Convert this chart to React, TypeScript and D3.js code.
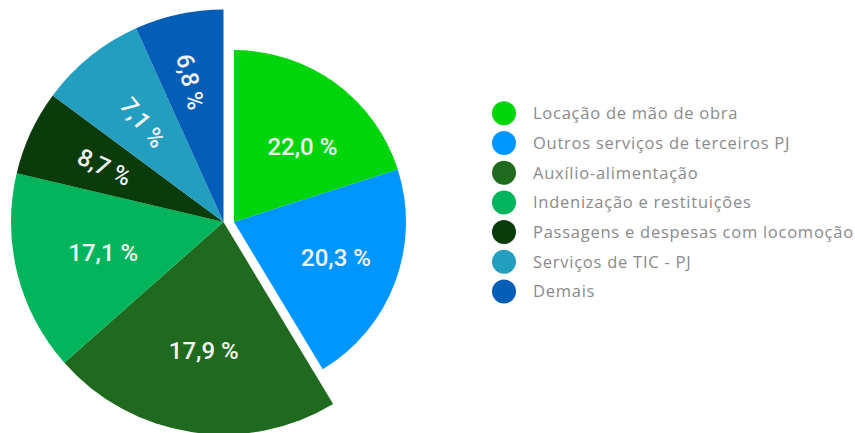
import * as d3 from "d3";

// slice shares as drawn (angles)
const categories = [
  "Locação de mão de obra",
  "Outros serviços de terceiros PJ",
  "Auxílio-alimentação",
  "Indenização e restituições",
  "Passagens e despesas com locomoção",
  "Serviços de TIC - PJ",
  "Demais",
];
const shares = [20.06, 21.3, 22.1, 15.2, 6.46, 8.1, 6.75];
const labels = ["22,0 %", "20,3 %", "17,9 %", "17,1 %", "8,7 %", "7,1 %", "6,8 %"];
const colors = ["#00d40a", "#0096ff", "#1f6a1e", "#02b45c", "#0a3c0b", "#239ebf", "#045db7"];

// layout
const W = 855;
const H = 433;
const cx = 223.5;
const cy = 222;
const bigR = 212.5;
const smallR = 172;
const outer = [smallR, smallR, bigR, bigR, bigR, bigR, bigR];
const shiftX = [10.5, 10.5, 0, 0, 0, 0, 0];
const labelR = [102, 108, 130, 124, 131, 128, 144];
const labelNudge = [6, -1.5, 0, 0, 0, 0, -1];
const rotated = [false, false, false, false, true, true, true];

function App() {
  const pie = d3
    .pie<number>()
    .sort(null)
    .startAngle(0)
    .endAngle(2 * Math.PI)
    .value((d) => d);
  const arcs = pie(shares);

  const legendX = 504;
  const legendY0 = 113.3;
  const legendStep = 29.7;

  return (
    <svg
      width={W}
      height={H}
      style={{ position: "absolute", left: 0, top: 0, background: "#fff" }}
    >
      <g>
        {arcs.map((a, i) => {
          const arc = d3.arc<d3.PieArcDatum<number>>().innerRadius(0).outerRadius(outer[i]);
          return (
            <path
              key={i}
              d={arc(a) || ""}
              fill={colors[i]}
              transform={`translate(${cx + shiftX[i]},${cy})`}
            />
          );
        })}
        {arcs.map((a, i) => {
          const mid = (a.startAngle + a.endAngle) / 2 + (labelNudge[i] * Math.PI) / 180;
          const x = cx + shiftX[i] + labelR[i] * Math.sin(mid);
          const y = cy - labelR[i] * Math.cos(mid);
          const rot = rotated[i] ? (mid * 180) / Math.PI - 270 : 0;
          return (
            <text
              key={i}
              x={0}
              y={0}
              transform={`translate(${x},${y}) rotate(${rot})`}
              textAnchor="middle"
              dy="0.36em"
              fill="#f3f3f3"
              fontFamily="Roboto, sans-serif"
              fontWeight={500}
              fontSize={24}
            >
              {labels[i]}
            </text>
          );
        })}
      </g>
      <g>
        {categories.map((c, i) => (
          <g key={c} transform={`translate(${legendX},${legendY0 + i * legendStep})`}>
            <circle r={12} fill={colors[i]} />
            <text
              x={29}
              dy="0.36em"
              fill="#8a8a8a"
              fontFamily="'Open Sans', sans-serif"
              fontSize={16.5}
              letterSpacing={0.75}
            >
              {c}
            </text>
          </g>
        ))}
      </g>
    </svg>
  );
}

export default App;
